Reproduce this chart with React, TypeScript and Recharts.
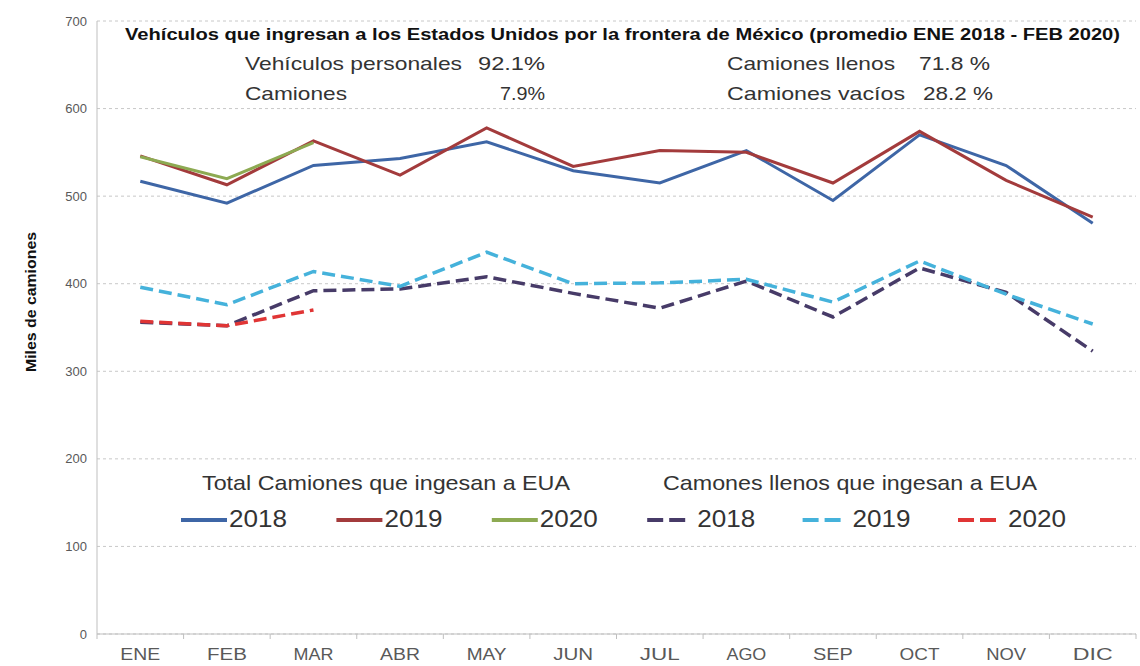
import React from 'react';
import { LineChart, Line, XAxis, YAxis, CartesianGrid, Legend, Customized } from 'recharts';

const months = ['ENE', 'FEB', 'MAR', 'ABR', 'MAY', 'JUN', 'JUL', 'AGO', 'SEP', 'OCT', 'NOV', 'DIC'];
const total2018 = [517, 492, 535, 543, 562, 529, 515, 552, 495, 570, 535, 469];
const total2019 = [546, 513, 563, 524, 578, 534, 552, 550, 515, 574, 518, 476];
const total2020: (number | null)[] = [545, 520, 561, null, null, null, null, null, null, null, null, null];
const llenos2018 = [356, 352, 392, 394, 408, 389, 372, 403, 362, 418, 390, 323];
const llenos2019 = [396, 376, 414, 397, 436, 400, 401, 405, 379, 426, 388, 354];
const llenos2020: (number | null)[] = [357, 352, 370, null, null, null, null, null, null, null, null, null];
const yTicks = [0, 100, 200, 300, 400, 500, 600, 700];

const titleText = 'Vehículos que ingresan a los Estados Unidos por la frontera de México (promedio ENE 2018 - FEB 2020)';
const statLabelsLeft = ['Vehículos personales', 'Camiones'];
const statValuesLeft = ['92.1%', '7.9%'];
const statLabelsRight = ['Camiones llenos', 'Camiones vacíos'];
const statValuesRight = ['71.8 %', '28.2 %'];
const legendHeaders = ['Total Camiones que ingesan a EUA', 'Camones llenos que ingesan a EUA'];
const yAxisTitle = 'Miles de camiones';

const series = [
  { key: 't2018', name: '2018', color: '#3E66A6', dashed: false },
  { key: 't2019', name: '2019', color: '#A33B3C', dashed: false },
  { key: 't2020', name: '2020', color: '#8DAA52', dashed: false },
  { key: 'l2018', name: '2018', color: '#473B68', dashed: true },
  { key: 'l2019', name: '2019', color: '#45B2DB', dashed: true },
  { key: 'l2020', name: '2020', color: '#E03535', dashed: true },
];

const data = months.map((m, i) => ({
  month: m,
  t2018: total2018[i],
  t2019: total2019[i],
  t2020: total2020[i],
  l2018: llenos2018[i],
  l2019: llenos2019[i],
  l2020: llenos2020[i],
}));

const FONT = '"Liberation Sans", Arial, sans-serif';

const XTick = (props: any) => {
  const { x, y, payload, index } = props;
  const half = payload && payload.offset ? payload.offset : 1039 / 24;
  const last = index === months.length - 1;
  return (
    <g>
      <line x1={x - half} x2={x - half} y1={y} y2={y + 5} stroke="#bfbfbf" strokeWidth={1} />
      {last && <line x1={x + half} x2={x + half} y1={y} y2={y + 5} stroke="#bfbfbf" strokeWidth={1} />}
      <text x={x} y={y + 26} textAnchor="middle" fontSize={17} fill="#595959" fontFamily={FONT} textLength={payload.value.length * 13.3} lengthAdjust="spacingAndGlyphs">
        {payload.value}
      </text>
    </g>
  );
};

const statTextProps = { fontSize: 19, fill: '#333', lengthAdjust: 'spacingAndGlyphs' as const };

const Annotations = () => (
  <g fontFamily={FONT}>
    <text x={125} y={40} fontSize={16} fontWeight="bold" fill="#111" textLength={995} lengthAdjust="spacingAndGlyphs">
      {titleText}
    </text>
    <text x={245} y={70} textLength={217} {...statTextProps}>{statLabelsLeft[0]}</text>
    <text x={245} y={99.5} textLength={102} {...statTextProps}>{statLabelsLeft[1]}</text>
    <text x={478} y={70} textLength={67} {...statTextProps}>{statValuesLeft[0]}</text>
    <text x={500} y={99.5} textLength={45} {...statTextProps}>{statValuesLeft[1]}</text>
    <text x={727} y={70} textLength={168} {...statTextProps}>{statLabelsRight[0]}</text>
    <text x={727} y={99.5} textLength={178} {...statTextProps}>{statLabelsRight[1]}</text>
    <text x={919} y={70} textLength={71} {...statTextProps}>{statValuesRight[0]}</text>
    <text x={923} y={99.5} textLength={70} {...statTextProps}>{statValuesRight[1]}</text>
    <text
      transform="translate(36,302) rotate(-90)"
      textAnchor="middle"
      fontSize={14}
      fontWeight="bold"
      fill="#111"
      textLength={140}
      lengthAdjust="spacingAndGlyphs"
    >
      {yAxisTitle}
    </text>
  </g>
);

const renderLegend = (props: any) => {
  const payload = props.payload || [];
  return (
    <svg width={1140} height={80} style={{ display: 'block', fontFamily: FONT }}>
      <text x={202} y={25} fontSize={21} fill="#333" textLength={368} lengthAdjust="spacingAndGlyphs">{legendHeaders[0]}</text>
      <text x={663} y={25} fontSize={21} fill="#333" textLength={374} lengthAdjust="spacingAndGlyphs">{legendHeaders[1]}</text>
      {series.map((def, i) => {
        const entry = payload.find((p: any) => p.dataKey === def.key) || { value: def.name };
        const x0 = 181 + i * 155.4;
        const len = def.dashed ? 40 : 46;
        return (
          <g key={def.key}>
            <line
              x1={x0}
              x2={x0 + len}
              y1={55}
              y2={55}
              stroke={def.color}
              strokeWidth={4}
              strokeDasharray={def.dashed ? '16 6' : undefined}
            />
            <text x={x0 + (def.dashed ? 50 : 48)} y={62} fontSize={24} fill="#333" textLength={58} lengthAdjust="spacingAndGlyphs">
              {entry.value}
            </text>
          </g>
        );
      })}
    </svg>
  );
};

export default function App() {
  return (
    <div style={{ position: 'absolute', left: 0, top: 0, width: 1140, height: 666, background: '#fff' }}>
      <LineChart
        width={1140}
        height={666}
        data={data}
        margin={{ top: 21, right: 4, left: 0, bottom: 0 }}
        style={{ fontFamily: FONT }}
      >
        <CartesianGrid vertical={false} stroke="#c8c8c8" strokeDasharray="3 3" />
        <XAxis
          dataKey="month"
          scale="band"
          height={32}
          tickLine={false}
          tickSize={0}
          tickMargin={0}
          axisLine={{ stroke: '#bfbfbf' }}
          tick={<XTick />}
          interval={0}
        />
        <YAxis
          width={97}
          domain={[0, 700]}
          ticks={yTicks}
          tickLine={false}
          tickSize={0}
          tickMargin={10}
          axisLine={{ stroke: '#bfbfbf' }}
          tick={{ fill: '#595959', fontSize: 13, fontFamily: FONT }}
        />
        <Customized component={Annotations} />
        {series.map((s) => (
          <Line
            key={s.key}
            type="linear"
            dataKey={s.key}
            name={s.name}
            stroke={s.color}
            strokeWidth={s.dashed ? 3.5 : 3}
            strokeDasharray={s.dashed ? '13 6' : undefined}
            dot={false}
            activeDot={false}
            connectNulls={false}
            isAnimationActive={false}
          />
        ))}
        <Legend
          layout="horizontal"
          verticalAlign="middle"
          align="center"
          content={renderLegend}
          wrapperStyle={{ position: 'absolute', left: 0, top: 465, width: 1140, height: 80 }}
        />
      </LineChart>
    </div>
  );
}
